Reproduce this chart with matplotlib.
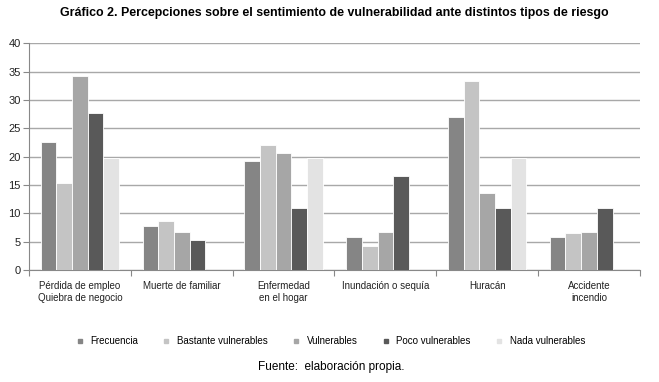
import numpy as np
import matplotlib
matplotlib.use("Agg")
import matplotlib.pyplot as plt
from matplotlib.lines import Line2D

categorias = ["Pérdida de empleo\nQuiebra de negocio", "Muerte de familiar",
              "Enfermedad\nen el hogar", "Inundación o sequía", "Huracán",
              "Accidente\nincendio"]
series = ["Frecuencia", "Bastante vulnerables", "Vulnerables",
          "Poco vulnerables", "Nada vulnerables"]
frecuencia = [22.6, 7.7, 19.2, 5.9, 27.0, 5.9]
bastante = [15.4, 8.7, 22.0, 4.3, 33.3, 6.5]
vulnerables = [34.3, 6.7, 20.6, 6.7, 13.5, 6.7]
poco = [27.7, 5.3, 10.9, 16.5, 10.9, 10.9]
nada = [19.8, 0, 19.8, 0, 19.8, 0]
colores = ["#858585", "#c4c4c4", "#a6a6a6", "#595959", "#e3e3e3"]

valores = [frecuencia, bastante, vulnerables, poco, nada]

plt.rcParams["font.family"] = ["Liberation Sans", "DejaVu Sans"]

fig = plt.figure(figsize=(6.59, 3.82), dpi=100)
ax = fig.add_axes([0.044, 0.293, 0.927, 0.594])

x = np.arange(len(categorias))
w = 0.154
for i, (serie, vals) in enumerate(zip(series, valores)):
    ax.bar(x + (i - 2) * w, vals, w, color=colores[i], edgecolor="white",
           linewidth=0.6, zorder=3, label=serie)

ax.set_xlim(-0.5, len(categorias) - 0.5)
ax.set_ylim(0, 40)
ax.set_yticks(range(0, 41, 5))
ax.yaxis.grid(True, color="#a8a8a8", linewidth=1.0, zorder=0)
ax.set_xticks(np.arange(-0.5, len(categorias), 1))
ax.set_xticklabels([])
ax.set_xticks(x, minor=True)
ax.set_xticklabels(categorias, minor=True, fontsize=7, color="#222222")
ax.tick_params(axis="x", which="minor", length=0, pad=8)
ax.tick_params(axis="x", which="major", length=4, color="#888888")
ax.tick_params(axis="y", length=4, color="#888888", labelsize=8,
               labelcolor="#222222", pad=2)
for s in ["top", "right"]:
    ax.spines[s].set_visible(False)
ax.spines["left"].set_color("#888888")
ax.spines["bottom"].set_color("#888888")

fig.text(0.507, 0.966, "Gráfico 2. Percepciones sobre el sentimiento de vulnerabilidad ante distintos tipos de riesgo",
         ha="center", va="center", fontsize=8.9, fontweight="bold")

handles = [Line2D([], [], marker="s", linestyle="none", color=c, markersize=3.5)
           for c in colores]
fig.legend(handles, series, loc="center", bbox_to_anchor=(0.497, 0.107), ncol=5,
           frameon=False, handletextpad=0.1, columnspacing=1.9,
           prop={"size": 7})

fig.text(0.503, 0.039, "Fuente:  elaboración propia.", ha="center", va="center",
         fontsize=8.5)

fig.savefig("out.png", dpi=100)
